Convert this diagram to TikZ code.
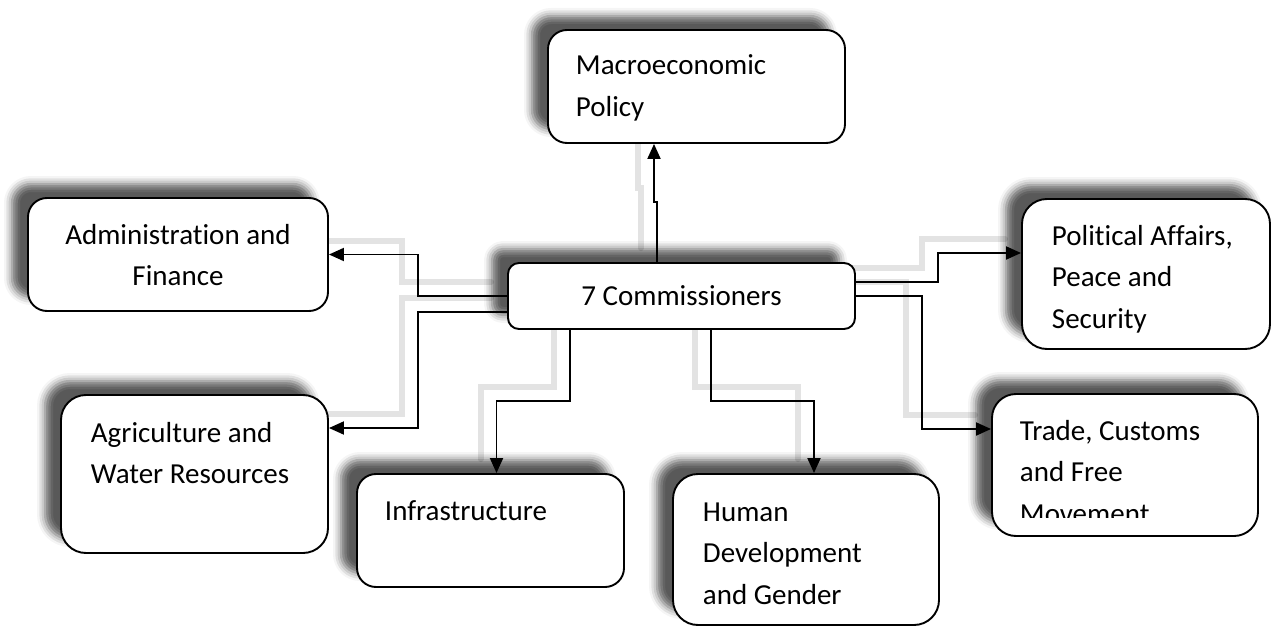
\documentclass[tikz,border=0pt]{standalone}
\usepackage{fontspec}
\setmainfont{Carlito}[Ligatures=NoCommon]
\usepackage{tikz}
\usetikzlibrary{arrows.meta}
\usetikzlibrary{shadows.blur}
\usetikzlibrary{backgrounds}
\tikzstyle{box}=[draw=black,fill=white,rounded corners=19pt,inner sep=0pt,blur shadow={shadow xshift=-16pt,shadow yshift=14pt,shadow blur radius=8pt,shadow opacity=65}]
\tikzstyle{txt}=[anchor=north west,inner sep=0pt,align=left]
\tikzstyle{arrow}=[-{Triangle[length=15pt,width=13pt]}]
\tikzstyle{wireshadow}=[draw=black!11,line width=6pt,line cap=round]
\tikzset{every picture/.style={
    line width=1.9pt, x=1pt, y=-1pt, font=\fontsize{29}{41.5}\selectfont
  }
}
\newcommand{\drawwires}[1]{
  \draw[#1] (comm.north -| jog) -- (jog) -- ++(-3,0) coordinate (jog2) -- (macro.south -| jog2);
  \draw[#1] (comm.west) -| (lbus |- admin.east) -- (admin.east);
  \draw[#1] ([yshift=-16pt]comm.west) -| (lbus |- agriin) -- (agriin);
  \draw[#1] ([yshift=14pt]comm.east) -| (pbus |- politin) -- (politin);
  \draw[#1] (comm.east) -| (tbus |- tradein) -- (tradein);
  \draw[#1] (comm.south -| infrabend) -- (infrabend) -| (infrain);
  \draw[#1] (comm.south -| humbend) -- (humbend) -| (humin);
}

\begin{document}
\begin{tikzpicture}
  \useasboundingbox (0,0) rectangle (1279,631);
  % boxes
  \node[box, minimum width=297pt, minimum height=113pt] (macro) at (696.5,86.5) {};
  \node[box, rounded corners=11pt, minimum width=347pt, minimum height=66pt] (comm) at (681.5,296) {7 Commissioners};
  \node[box, minimum width=300pt, minimum height=113pt] (admin) at (178,254.5) {};
  \node[box, rounded corners=25pt, minimum width=267pt, minimum height=158pt] (agri) at (194.5,474) {};
  \node[box, minimum width=267pt, minimum height=113pt] (infra) at (490.5,530.5) {};
  \node[box, rounded corners=25pt, minimum width=266pt, minimum height=151pt] (human) at (806,549.5) {};
  \node[box, rounded corners=25pt, minimum width=248pt, minimum height=150pt] (polit) at (1146,274) {};
  \node[box, rounded corners=24pt, minimum width=266pt, minimum height=142pt] (trade) at (1125,465) {};
  % texts
  \node[txt] (macro-t) at (575,45) {\strut Macroeconomic\\Policy};
  \node[txt, anchor=north, align=center] (admin-t) at (178,214) {\strut Administration and\\Finance};
  \node[txt] (agri-t) at (90,412) {\strut Agriculture and\\Water Resources};
  \node[txt] (infra-t) at (384,490) {\strut Infrastructure};
  \node[txt] (human-t) at (702,491) {\strut Human\\Development\\and Gender};
  \node[txt] (polit-t) at (1051,215) {\strut Political Affairs,\\Peace and\\Security};
  \begin{scope}
    \clip (992,394) rectangle (1258,517);
    \node[txt] (trade-t) at (1019,410) {\strut Trade, Customs\\and Free\\Movement};
  \end{scope}
  % bends
  \coordinate (jog) at (657,202);
  \coordinate (lbus) at (418,0);
  \coordinate (pbus) at (938,0);
  \coordinate (tbus) at (922,0);
  \coordinate (infrabend) at (570,401);
  \coordinate (humbend) at (711,401);
  \coordinate (agriin) at ([yshift=46pt]agri.east);
  \coordinate (politin) at ([yshift=21pt]polit.west);
  \coordinate (tradein) at ([yshift=36pt]trade.west);
  \coordinate (infrain) at ([xshift=6pt]infra.north);
  \coordinate (humin) at ([xshift=8pt]human.north);
  % connectors
  \begin{scope}[on background layer]
    \begin{scope}[transform canvas={xshift=-16pt,yshift=14pt}]
      \drawwires{wireshadow}
    \end{scope}
  \end{scope}
  \drawwires{arrow}
\end{tikzpicture}
\end{document}
